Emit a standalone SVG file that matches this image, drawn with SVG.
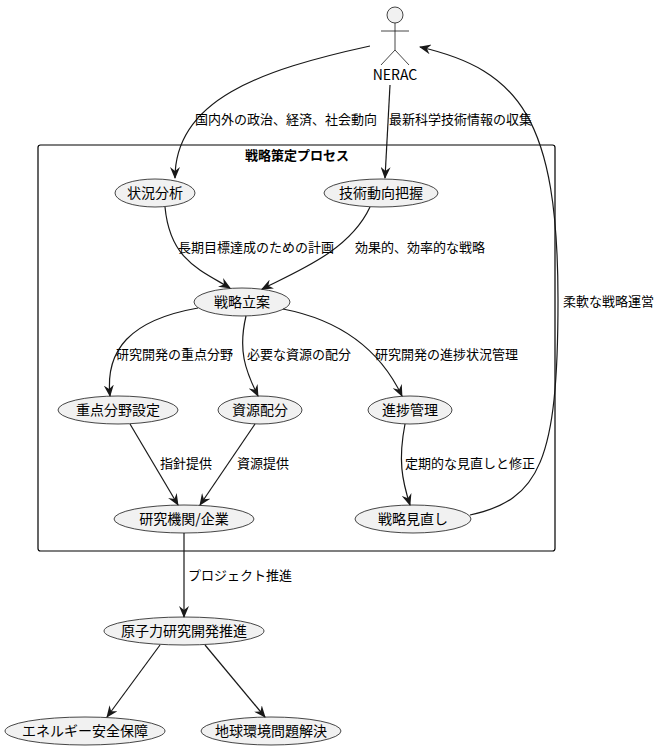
<svg xmlns="http://www.w3.org/2000/svg" width="661" height="756" viewBox="0 0 661 756">
<style>
text{font-family:"Noto Sans CJK JP","Noto Sans",sans-serif;font-size:13px;fill:#000}
.n ellipse{fill:#F1F1F1;stroke:#181818;stroke-width:0.8}
.n text{font-size:14px;text-anchor:middle}
#edges path{fill:none;stroke:#181818;stroke-width:1.2;marker-end:url(#a)}
</style>
<defs><marker id="a" viewBox="0 0 12 10" refX="11" refY="5" markerWidth="12" markerHeight="10" markerUnits="userSpaceOnUse" orient="auto"><path d="M0,0 L12,5 L0,10 L4,5 Z" fill="#181818"/></marker></defs>
<rect width="661" height="756" fill="#fff"/>
<g id="pkg"><rect x="38" y="145" width="517" height="406" rx="2.5" fill="none" stroke="#000" stroke-width="1.2"/><text x="297" y="160" text-anchor="middle" style="font-weight:bold">戦略策定プロセス</text></g>
<g id="NERAC" fill="none" stroke="#181818" stroke-width="0.8"><circle cx="395" cy="15" r="8" fill="#F1F1F1"/><path d="M395,23 V50 M381,31 H409 M395,50 L381,65 M395,50 L409,65"/><text x="395" y="80" text-anchor="middle" stroke="none" style="font-size:14px">NERAC</text></g>
<g id="s1" class="n"><ellipse cx="155" cy="193" rx="40" ry="14"/><text x="155" y="198">状況分析</text></g>
<g id="s2" class="n"><ellipse cx="381" cy="193" rx="57" ry="14"/><text x="381" y="198">技術動向把握</text></g>
<g id="s3" class="n"><ellipse cx="242" cy="302" rx="48" ry="14"/><text x="242" y="307">戦略立案</text></g>
<g id="s4" class="n"><ellipse cx="118" cy="410" rx="60" ry="14"/><text x="118" y="415">重点分野設定</text></g>
<g id="s5" class="n"><ellipse cx="260" cy="410" rx="42" ry="14"/><text x="260" y="415">資源配分</text></g>
<g id="s6" class="n"><ellipse cx="410" cy="410" rx="42" ry="14"/><text x="410" y="415">進捗管理</text></g>
<g id="s7" class="n"><ellipse cx="184" cy="519" rx="70" ry="14"/><text x="184" y="524">研究機関/企業</text></g>
<g id="s8" class="n"><ellipse cx="413" cy="519" rx="58" ry="14"/><text x="413" y="524">戦略見直し</text></g>
<g id="s9" class="n"><ellipse cx="184" cy="631" rx="80" ry="14"/><text x="184" y="636">原子力研究開発推進</text></g>
<g id="s10" class="n"><ellipse cx="85" cy="731" rx="80" ry="14"/><text x="85" y="736">エネルギー安全保障</text></g>
<g id="s11" class="n"><ellipse cx="271" cy="731" rx="70" ry="14"/><text x="271" y="736">地球環境問題解決</text></g>
<g id="edges">
<path d="M370,46 C260,70 175,100 175,178"/>
<path d="M390,85 L385,178"/>
<path d="M165,207 C170,260 200,270 230,288"/>
<path d="M370,207 C350,250 300,270 262,289"/>
<path d="M198,308 C130,320 105,350 110,396"/>
<path d="M246,316 C238,350 245,370 258,396"/>
<path d="M283,309 C340,320 380,350 402,396"/>
<path d="M130,424 L178,505"/>
<path d="M255,424 L200,505"/>
<path d="M405,424 C398,460 402,480 410,505"/>
<path d="M470,515 C540,500 558,460 558,300 C558,120 520,70 420,47"/>
<path d="M184,533 L184,617"/>
<path d="M160,645 L107,717"/>
<path d="M205,645 L265,717"/>
</g>
<g id="labels">
<text x="195" y="124">国内外の政治、経済、社会動向</text>
<text x="389" y="124">最新科学技術情報の収集</text>
<text x="178" y="252">長期目標達成のための計画</text>
<text x="355" y="252">効果的、効率的な戦略</text>
<text x="116" y="359">研究開発の重点分野</text>
<text x="247" y="359">必要な資源の配分</text>
<text x="375" y="359">研究開発の進捗状況管理</text>
<text x="160" y="468">指針提供</text>
<text x="237" y="468">資源提供</text>
<text x="405" y="468">定期的な見直しと修正</text>
<text x="563" y="306">柔軟な戦略運営</text>
<text x="188" y="580">プロジェクト推進</text>
</g>
</svg>
